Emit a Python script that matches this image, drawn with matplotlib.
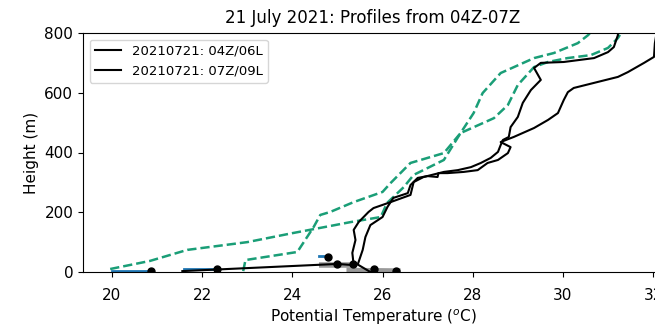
import matplotlib
matplotlib.use("Agg")
import matplotlib.pyplot as plt

# potential temperature (C) and height (m)

# profile 1: 20210721 04Z/06L
theta1 = [21.56, 25.00, 25.36, 25.33, 25.40, 25.36, 25.47, 25.69, 25.80, 26.18, 26.62,
          26.69, 26.91, 27.36, 27.67, 27.96, 28.18, 28.40, 28.56, 28.62, 28.67, 28.80,
          28.84, 29.00, 29.11, 29.29, 29.51, 29.36, 29.51, 30.02, 30.69, 31.00, 31.13,
          31.22, 31.22]
height1 = [3, 27, 23, 64, 107, 141, 167, 201, 214, 234, 258,
           301, 318, 335, 341, 351, 365, 382, 402, 425, 442, 452,
           485, 519, 566, 609, 643, 683, 700, 703, 716, 736, 753,
           793, 800]

# profile 2: 20210721 07Z/09L
theta2 = [25.73, 25.45, 25.56, 25.62, 25.73, 26.00, 26.11, 26.24, 26.56, 26.62, 26.78,
          27.00, 27.22, 27.24, 27.44, 27.80, 28.11, 28.33, 28.56, 28.78, 28.84, 28.62,
          28.84, 28.91, 29.36, 29.67, 29.89, 30.02, 30.11, 30.24, 30.69, 31.22, 31.44,
          31.80, 32.02, 32.04, 32.07, 32.10]
height2 = [0, 25, 74, 117, 157, 184, 218, 248, 264, 291, 315,
           321, 318, 331, 331, 335, 341, 365, 375, 398, 418, 435,
           448, 452, 482, 509, 532, 576, 602, 616, 633, 653, 669,
           700, 720, 766, 793, 800]

# dashed profiles
thetaA = [19.96, 20.84, 21.67, 23.00, 24.00, 24.84, 25.29, 25.96, 26.10, 26.47, 26.69,
          27.36, 27.73, 28.47, 28.78, 29.00, 29.36, 29.67, 30.10, 30.62, 31.00, 31.22, 31.29]
heightA = [10, 37, 74, 100, 130, 154, 167, 184, 231, 284, 325,
           375, 465, 515, 559, 626, 686, 703, 716, 726, 750, 783, 800]

thetaB = [22.91, 22.96, 24.11, 24.47, 24.62, 24.84, 25.36, 26.00, 26.18, 26.62, 27.36,
          27.73, 28.02, 28.22, 28.62, 29.36, 29.80, 30.33, 30.56, 30.60]
heightB = [3, 40, 67, 150, 191, 201, 234, 268, 298, 365, 398,
           465, 532, 599, 666, 716, 733, 766, 793, 800]

# near-surface segments
blue_segs = [([20.0, 20.8], [3, 3]), ([21.6, 22.3], [10, 10]), ([24.6, 24.75], [52, 52])]
grey_segs = [([24.6, 25.4], [22, 22]), ([25.2, 26.4], [5, 3])]
dot_theta = [20.87, 22.33, 24.80, 25.00, 25.35, 25.80, 26.30]
dot_height = [3, 10, 50, 27, 27, 10, 2]

green = "#1a9e77"

fig = plt.figure(figsize=(6.55, 3.24), dpi=100)
ax = fig.add_axes([83 / 655, 52 / 324, (663 - 83) / 655, (272 - 33) / 324])

for t, h in grey_segs:
    ax.plot(t, h, color="grey", lw=4, alpha=0.8, solid_capstyle="butt")
for t, h in blue_segs:
    ax.plot(t, h, color="#1f77b4", lw=2)

ax.plot(thetaA, heightA, "--", color=green, lw=1.8)
ax.plot(thetaB, heightB, "--", color=green, lw=1.8)
ax.plot(theta1, height1, color="black", lw=1.5, label="20210721: 04Z/06L")
ax.plot(theta2, height2, color="black", lw=1.5, label="20210721: 07Z/09L")
ax.plot(dot_theta, dot_height, "o", color="black", ms=5)

ax.set_xlim(19.357, 32.22)
ax.set_ylim(0, 800)
ax.set_xticks([20, 22, 24, 26, 28, 30, 32])
ax.set_yticks([0, 200, 400, 600, 800])
ax.tick_params(labelsize=11)
ax.tick_params(axis="x", pad=8)
ax.set_xlabel("Potential Temperature ($^o$C)", fontsize=11, labelpad=3)
ax.set_ylabel("Height (m)", fontsize=11)
ax.set_title("21 July 2021: Profiles from 04Z-07Z", fontsize=12, pad=7)
ax.legend(loc="upper left", fontsize=9.5)

fig.savefig("out.png", dpi=100)
